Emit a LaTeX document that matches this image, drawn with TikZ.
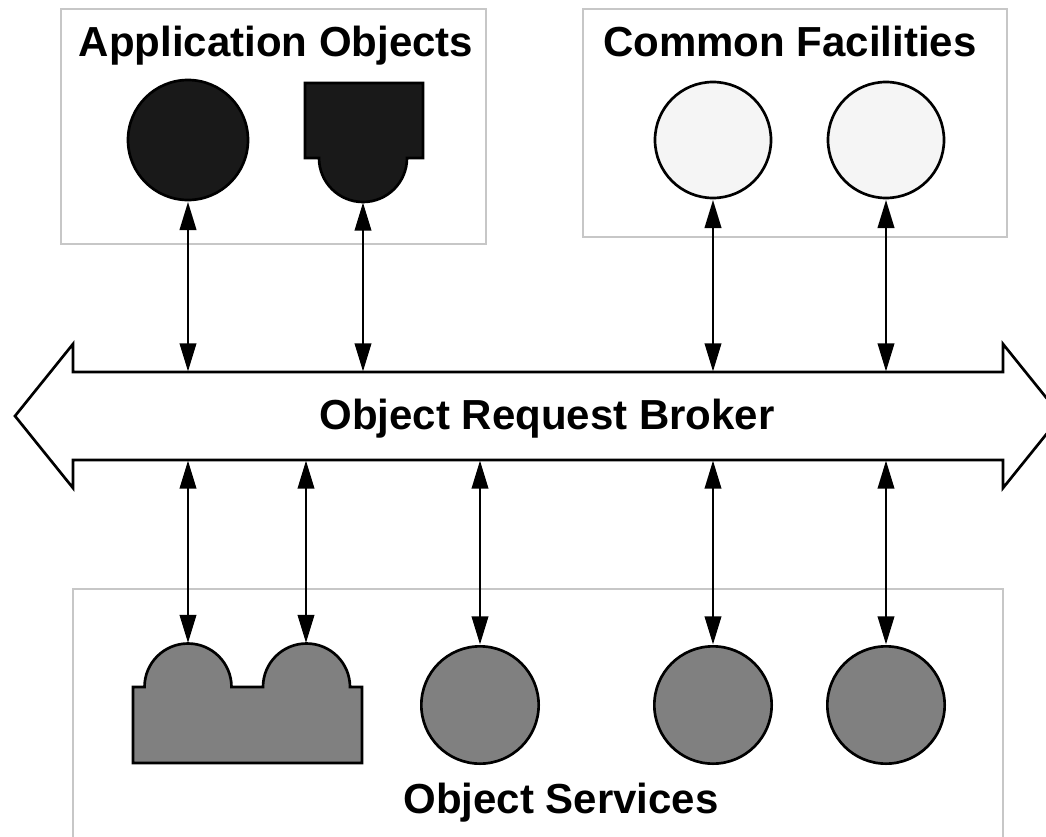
\documentclass[tikz,border=0pt]{standalone}
\usepackage{fontspec}
\setmainfont{Liberation Sans}
\usetikzlibrary{arrows.meta}

\begin{document}
\begin{tikzpicture}[
  x=0.75pt, y=-0.75pt,
  font=\fontsize{31.5}{36}\selectfont\bfseries,
  group/.style={draw=black!22, line width=2pt},
  obj/.style={draw, circle, line width=2pt, inner sep=0pt,
              minimum size=#1},
  obj/.default=88pt,
  part/.style={draw, line width=2pt, line join=miter},
  label/.style={anchor=base, inner sep=0pt},
  arr/.style={{Triangle[length=21pt,width=12.5pt]}-{Triangle[length=21pt,width=12.5pt]},
              line width=1.3pt, shorten <=0.5pt, shorten >=0.5pt},
]
\useasboundingbox (0,0) rectangle (1046,836);
\clip (0,0) rectangle (1046,836);
%% Groups
\draw[group] (61,9)  rectangle (486,244);
\draw[group] (583,9) rectangle (1007,237);
\draw[group] (73,589) rectangle (1003,900);
\node[label] at (276,56)  (appl) {Application Objects};
\node[label] at (790,56)  (cfl)  {Common Facilities};
\node[label] at (561,813) (osl)  {Object Services};
%% Broker
\draw[part] (15,416) -- (73,344) -- (73,372) -- (1003,372) -- (1003,344)
  -- (1061,416) -- (1003,488) -- (1003,460) -- (73,460) -- (73,488) -- cycle;
\coordinate (orbtop) at (538,372);
\coordinate (orbbot) at (538,460);
\node[label] at (547,429) (orb) {Object Request Broker};
%% Application objects
\node[obj=90pt, fill=black!90] at (188,140) (ao1) {};
\draw[part, fill=black!90] (305,83) -- (423,83) -- (423,158) -- (407,158)
  arc[start angle=0, end angle=180, radius=44] -- (305,158) -- cycle;
\coordinate (ao2) at (363,202);
%% Common facilities
\node[obj=87pt, fill=black!4] at (713,140) (cf1) {};
\node[obj=87pt, fill=black!4] at (886,140) (cf2) {};
%% Object services
\draw[part, fill=black!50] (133,763) -- (133,687) -- (144.5,687)
  arc[start angle=180, end angle=360, radius=43.5] -- (263,687)
  arc[start angle=180, end angle=360, radius=43.5] -- (362,687)
  -- (362,763) -- cycle;
\coordinate (os1) at (188,643.5);
\coordinate (os2) at (306,643.5);
\node[obj, fill=black!50] at (480,705) (os3) {};
\node[obj, fill=black!50] at (713,705) (os4) {};
\node[obj, fill=black!50] at (886,705) (os5) {};
%% Links to the broker
\draw[arr] (ao1.south) -- (ao1.south |- orbtop);
\draw[arr] (ao2) -- (ao2 |- orbtop);
\draw[arr] (cf1.south) -- (cf1.south |- orbtop);
\draw[arr] (cf2.south) -- (cf2.south |- orbtop);
\draw[arr] (os1 |- orbbot) -- (os1);
\draw[arr] (os2 |- orbbot) -- (os2);
\draw[arr] (os3.north |- orbbot) -- (os3.north);
\draw[arr] (os4.north |- orbbot) -- (os4.north);
\draw[arr] (os5.north |- orbbot) -- (os5.north);
\end{tikzpicture}
\end{document}
